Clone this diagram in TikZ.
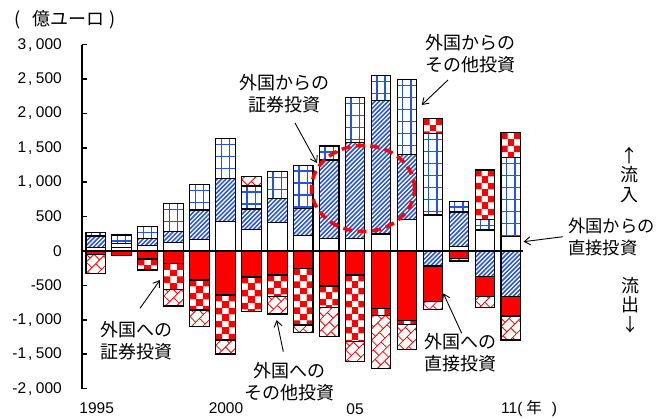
\documentclass[tikz,border=0pt]{standalone}
\usepackage{fontspec}
\setmainfont{Liberation Sans}
\newfontfamily\jp{Noto Sans CJK JP}
\usetikzlibrary{arrows.meta}
\definecolor{hblue}{RGB}{40,85,220}
\definecolor{gblue}{RGB}{35,85,225}
\tikzset{
 segline/.style={draw=black, line width=1.1pt},
 hatchline/.style={hblue, line width=1.5pt},
 gridline/.style={gblue, line width=1.4pt},
 brickline/.style={red, line width=0.8pt},
 lbl/.style={font=\jp\fontsize{18}{22}\selectfont, inner sep=0pt, align=center},
 vlbl/.style={font=\jp\fontsize{18}{19.5}\selectfont, inner sep=0pt, align=center},
 num/.style={font=\fontsize{15.5}{18}\selectfont, inner sep=0pt},
 pointer/.style={-{Straight Barb[length=6pt,width=8pt]}, line width=0.9pt},
}
\newcommand\thsep{\kern2pt,\kern3.5pt}
\newcommand\barx[1]{\pgfmathsetmacro\xl{86+25.94*(#1-1)}\pgfmathsetmacro\xr{\xl+19.5}}
\newcommand\segW[3]{\barx{#1}\draw[segline,fill=white] (\xl,#2) rectangle (\xr,#3);}
\newcommand\segR[3]{\barx{#1}\draw[segline,fill=red] (\xl,#2) rectangle (\xr,#3);}
\newcommand\segH[3]{\barx{#1}%
 \pgfmathsetmacro\hh{#3-#2+2}%
 \pgfmathtruncatemacro\nk{(\hh+19.5)/4.4+2}%
 \begin{scope}\clip (\xl,#2) rectangle (\xr,#3);
 \fill[white] (\xl,#2) rectangle (\xr,#3);
 \foreach \k in {0,...,\nk}{\draw[hatchline] (\xr-\k*4.4,#3+1) -- ++(\hh+2,-\hh-2);}
 \end{scope}
 \draw[segline] (\xl,#2) rectangle (\xr,#3);}
\newcommand\segG[3]{\barx{#1}%
 \pgfmathtruncatemacro\nk{(#3-#2)/12+1}%
 \begin{scope}\clip (\xl,#2) rectangle (\xr,#3);
 \fill[white] (\xl,#2) rectangle (\xr,#3);
 \draw[gridline] (\xl+5.5,#2) -- (\xl+5.5,#3) (\xl+13.8,#2) -- (\xl+13.8,#3);
 \foreach \k in {0,...,\nk}{\draw[gridline] (\xl,#2+6+\k*12) -- (\xr,#2+6+\k*12);}
 \end{scope}
 \draw[segline] (\xl,#2) rectangle (\xr,#3);}
\newcommand\segC[3]{\barx{#1}%
 \pgfmathtruncatemacro\nr{(#3-#2)/6.5}%
 \begin{scope}\clip (\xl,#2) rectangle (\xr,#3);
 \fill[white] (\xl,#2) rectangle (\xr,#3);
 \foreach \r in {0,...,\nr}{%
   \pgfmathtruncatemacro\odd{mod(\r,2)}%
   \ifnum\odd=0
     \fill[red] (\xl,#2+\r*6.5) rectangle ++(6.5,6.5) (\xl+13,#2+\r*6.5) rectangle ++(6.5,6.5);
   \else
     \fill[red] (\xl+6.5,#2+\r*6.5) rectangle ++(6.5,6.5);
   \fi}
 \end{scope}
 \draw[segline] (\xl,#2) rectangle (\xr,#3);}
\newcommand\segB[3]{\barx{#1}%
 \pgfmathsetmacro\cx{\xl+9.75}\pgfmathsetmacro\cy{(#2+#3)/2}%
 \begin{scope}\clip (\xl,#2) rectangle (\xr,#3);
 \fill[white] (\xl,#2) rectangle (\xr,#3);
 \begin{scope}[shift={(\cx,\cy)},rotate=45]
 \foreach \j in {-5,...,5}{%
   \draw[brickline] (-45,\j*8) -- (45,\j*8);
   \pgfmathsetmacro\off{mod(\j+20,2)*5.5}%
   \foreach \k in {-4,...,4}{\draw[brickline] (\k*11+\off,\j*8) -- ++(0,8);}}
 \end{scope}
 \end{scope}
 \draw[segline] (\xl,#2) rectangle (\xr,#3);}
\begin{document}
\begin{tikzpicture}[x=1pt,y=-1pt]
\useasboundingbox (0,0) rectangle (656,419);
\fill[white] (0,0) rectangle (656,419);
% bars
\segG{1}{232.7}{236}\segH{1}{236}{247.3}\segW{1}{247.3}{251}\segR{1}{251}{254.3}\segB{1}{254.3}{273.3}
\segG{2}{235}{243.5}\segW{2}{243.5}{247.3}\segW{2}{247.3}{251}\segR{2}{251}{255.5}
\segG{3}{226.7}{238.2}\segH{3}{238.2}{245.8}\segW{3}{245.8}{251}\segR{3}{251}{259}\segC{3}{259}{270}
\segG{4}{203.3}{231.7}\segH{4}{231.7}{242.7}\segW{4}{242.7}{251}\segR{4}{251}{263.3}\segC{4}{263.3}{289.3}\segB{4}{289.3}{306}
\segG{5}{184.3}{210}\segH{5}{210}{239.3}\segW{5}{239.3}{251}\segR{5}{251}{280}\segC{5}{280}{310}\segB{5}{310}{326.7}
\segG{6}{138.3}{178.3}\segH{6}{178.3}{221.7}\segW{6}{221.7}{251}\segR{6}{251}{295}\segC{6}{295}{340}\segB{6}{340}{354}
\segB{7}{176.7}{186}\segG{7}{186}{209}\segH{7}{209}{229.3}\segW{7}{229.3}{251}\segR{7}{251}{277}\segC{7}{277}{311.7}
\segG{8}{171.7}{198.3}\segH{8}{198.3}{222.7}\segW{8}{222.7}{251}\segR{8}{251}{275}\segC{8}{275}{296.7}\segB{8}{296.7}{314}
\segG{9}{165.2}{208.5}\segH{9}{208.5}{235.7}\segW{9}{235.7}{251}\segR{9}{251}{268.3}\segC{9}{268.3}{325}\segB{9}{325}{332.3}
\segG{10}{146}{160}\segH{10}{160}{238.3}\segW{10}{238.3}{251}\segR{10}{251}{286}\segC{10}{286}{307.3}\segB{10}{307.3}{336.7}
\segG{11}{97.3}{142.3}\segH{11}{142.3}{238.3}\segW{11}{238.3}{251}\segR{11}{251}{275}\segC{11}{275}{341.7}\segB{11}{341.7}{361.7}
\segG{12}{75.5}{100.5}\segH{12}{100.5}{234}\segW{12}{234}{251}\segR{12}{251}{308.3}\segC{12}{308.3}{315.7}\segB{12}{315.7}{368.3}
\segG{13}{79.5}{154.2}\segH{13}{154.2}{219.2}\segW{13}{219.2}{251}\segR{13}{251}{320.5}\segC{13}{320.5}{324.2}\segB{13}{324.2}{349.5}
\segC{14}{118.3}{133.3}\segG{14}{133.3}{215}\segW{14}{215}{251}\segH{14}{251}{266}\segR{14}{266}{301.7}\segB{14}{301.7}{309.5}
\segG{15}{201.2}{212}\segH{15}{212}{246.7}\segW{15}{246.7}{251}\segR{15}{251}{258.3}\segB{15}{258.3}{261}
\segC{16}{170}{219.7}\segG{16}{219.7}{230}\segW{16}{230}{251}\segH{16}{251}{276.7}\segR{16}{276.7}{296.7}\segB{16}{296.7}{307.7}
\segC{17}{132.7}{157.7}\segG{17}{157.7}{236.7}\segW{17}{236.7}{251}\segH{17}{251}{296.7}\segR{17}{296.7}{316}\segB{17}{316}{340}
% axes
\draw[line width=2.5pt] (81,251) -- (522.5,251);
\draw[line width=2pt] (82,44.6) -- (82,388.6);
\foreach \k/\t in {6/{3\thsep000},5/{2\thsep500},4/{2\thsep000},3/{1\thsep500},2/{1\thsep000},1/{500},0/{0},-1/{-500},-2/{-1\thsep000},-3/{-1\thsep500},-4/{-2\thsep000}}{%
  \draw[line width=1.5pt] (82,251-34.4*\k) -- (87,251-34.4*\k);
  \node[num, anchor=east] (tick\k) at (62,251-34.4*\k) {\t};}
\node[font=\jp\fontsize{18}{22}\selectfont, inner sep=0pt, anchor=west] (ttl) at (14,20) {(\kern12pt 億ユーロ\kern5pt)};
\node[num] (y95) at (96.7,408.5) {1995};
\node[num] (y00) at (226,408.5) {2000};
\node[num] (y05) at (355,409) {05};
\node[num, anchor=west] (y11) at (501,408.5) {11(\kern4pt{\jp 年}\kern10pt)};
% ellipse
\draw[red, line width=3.5pt, dash pattern=on 9pt off 5.5pt] (363,188.5) ellipse [x radius=51.5pt, y radius=43pt];
% labels
\node[lbl] (L1) at (284,93.5) {外国からの\\証券投資};
\node[lbl] (L2) at (470,54) {外国からの\\その他投資};
\node[lbl, font=\jp\fontsize{17.3}{22}\selectfont, anchor=west, align=left] (L3) at (568,236.5) {外国からの\\直接投資};
\node[vlbl] (L4) at (629,175) {↑\\流\\入};
\node[vlbl] (L5) at (630,305) {流\\出\\↓};
\node[lbl] (L6) at (460,353) {外国への\\直接投資};
\node[lbl] (L7) at (289,381.5) {外国への\\その他投資};
\node[lbl] (L8) at (136.7,341) {外国への\\証券投資};
% arrows
\coordinate (a1s) at (295,123); \coordinate (a1e) at (317,163);
\coordinate (a2s) at (448,80); \coordinate (a2e) at (421.7,105);
\coordinate (a3s) at (563,236.7); \coordinate (a3e) at (523.5,241.7);
\coordinate (a4s) at (461.7,333.3); \coordinate (a4e) at (443.3,293.3);
\coordinate (a5s) at (283.3,351.7); \coordinate (a5e) at (276.7,320);
\coordinate (a6s) at (140,308.3); \coordinate (a6e) at (160,280);
\draw[pointer] (a1s) -- (a1e);
\draw[pointer] (a2s) -- (a2e);
\draw[pointer] (a3s) -- (a3e);
\draw[pointer] (a4s) -- (a4e);
\draw[pointer] (a5s) -- (a5e);
\draw[pointer] (a6s) -- (a6e);
\end{tikzpicture}
\end{document}
